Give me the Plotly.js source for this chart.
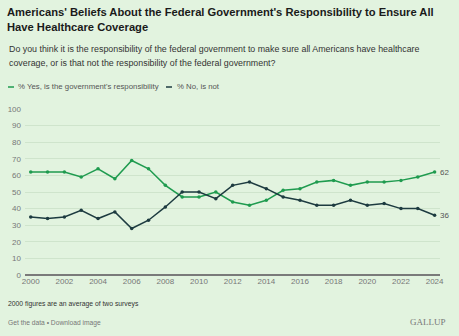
<!DOCTYPE html>
<html>
<head>
<meta charset="utf-8">
<script src="https://cdn.plot.ly/plotly-3.0.1.min.js"></script>
<style>
html,body{margin:0;padding:0;background:#e2f3df;}
#chart{width:459px;height:336px;}
</style>
</head>
<body>
<div id="chart"></div>
<script>
const years = [2000,2001,2002,2003,2004,2005,2006,2007,2008,2009,2010,2011,2012,2013,2014,2015,2016,2017,2018,2019,2020,2021,2022,2023,2024];
const yesValues = [62,62,62,59,64,58,69,64,54,47,47,50,44,42,45,51,52,56,57,54,56,56,57,59,62];
const noValues  = [35,34,35,39,34,38,28,33,41,50,50,46,54,56,52,47,45,42,42,45,42,43,40,40,36];
const seriesNames = ["% Yes, is the government's responsibility", "% No, is not"];
const xTicks = [2000,2002,2004,2006,2008,2010,2012,2014,2016,2018,2020,2022,2024];
const yTicks = [0,10,20,30,40,50,60,70,80,90,100];

const FONT = "'Liberation Sans', Arial, sans-serif";
const GREEN = "#1f9b4f";
const DARK = "#1d3b40";
const BG = "#e2f3df";

// plot area: left 25px, right 440px, top 109px, bottom 275px
const W = 459, H = 336;
const PL = 25, PW = 415, PT = 109, PH = 166;
const px = v => (v - PL) / PW;          // pixel x -> paper x
const py = v => 1 + (PT - v) / PH;      // pixel y -> paper y

const traces = [
  {x: years, y: yesValues, name: seriesNames[0], type: "scatter", mode: "lines+markers",
   line: {color: GREEN, width: 1.5}, marker: {color: GREEN, size: 3.5}},
  {x: years, y: noValues, name: seriesNames[1], type: "scatter", mode: "lines+markers",
   line: {color: DARK, width: 1.5}, marker: {color: DARK, size: 3.5}}
];

const last = years.length - 1;
const legendShapes = [
  {type: "line", xref: "paper", yref: "paper", x0: px(8), x1: px(14), y0: py(87), y1: py(87), line: {color: GREEN, width: 1.5}},
  {type: "line", xref: "paper", yref: "paper", x0: px(166), x1: px(172), y0: py(87), y1: py(87), line: {color: DARK, width: 1.5}}
];

const layout = {
  width: W, height: H,
  paper_bgcolor: BG, plot_bgcolor: BG,
  margin: {l: PL, r: W - PL - PW, t: PT, b: H - PT - PH},
  font: {family: FONT, size: 8, color: "#666"},
  title: {
    text: "<b>Americans' Beliefs About the Federal Government's Responsibility to Ensure All<br>Have Healthcare Coverage</b>",
    xref: "container", x: 7 / W, xanchor: "left",
    yref: "container", y: (H - 16) / H, yanchor: "bottom",
    font: {family: FONT, size: 11.2, color: "#1a1a1a"}
  },
  showlegend: false,
  xaxis: {
    range: [1999.66, 2024.32], tickvals: xTicks, ticktext: xTicks.map(String),
    showgrid: false, zeroline: false, showline: false, ticks: "",
    tickfont: {family: FONT, size: 8, color: "#777"}, fixedrange: true
  },
  yaxis: {
    range: [0, 100], tickvals: yTicks, showgrid: true, gridcolor: "#cfe4cc", gridwidth: 1,
    zeroline: true, zerolinecolor: "#7a7a7a", zerolinewidth: 1.5,
    ticks: "", tickfont: {family: FONT, size: 8, color: "#777"}, ticklabelstandoff: 3, fixedrange: true
  },
  shapes: legendShapes,
  annotations: [
    {text: "Do you think it is the responsibility of the federal government to make sure all Americans have healthcare",
     xref: "paper", yref: "paper", x: px(7), y: py(49), xanchor: "left", yanchor: "middle",
     showarrow: false, font: {family: FONT, size: 8.85, color: "#333"}},
    {text: "coverage, or is that not the responsibility of the federal government?",
     xref: "paper", yref: "paper", x: px(7), y: py(63), xanchor: "left", yanchor: "middle",
     showarrow: false, font: {family: FONT, size: 8.85, color: "#333"}},
    {text: seriesNames[0], xref: "paper", yref: "paper", x: px(16), y: py(87), xanchor: "left", yanchor: "middle",
     showarrow: false, font: {family: FONT, size: 7.8, color: "#555"}},
    {text: seriesNames[1], xref: "paper", yref: "paper", x: px(175), y: py(87), xanchor: "left", yanchor: "middle",
     showarrow: false, font: {family: FONT, size: 7.8, color: "#555"}},
    {text: String(yesValues[last]), xref: "x", yref: "y", x: years[last], y: yesValues[last],
     xanchor: "left", xshift: 3, showarrow: false, font: {family: FONT, size: 8, color: "#555"}},
    {text: String(noValues[last]), xref: "x", yref: "y", x: years[last], y: noValues[last],
     xanchor: "left", xshift: 3, showarrow: false, font: {family: FONT, size: 8, color: "#555"}},
    {text: "2000 figures are an average of two surveys", xref: "paper", yref: "paper",
     x: px(6), y: py(304), xanchor: "left", yanchor: "middle", showarrow: false,
     font: {family: FONT, size: 6.8, color: "#333"}},
    {text: "Get the data • Download image", xref: "paper", yref: "paper",
     x: px(6), y: py(323), xanchor: "left", yanchor: "middle", showarrow: false,
     font: {family: FONT, size: 6.7, color: "#777"}},
    {text: "GALLUP", xref: "paper", yref: "paper",
     x: px(448), y: py(322), xanchor: "right", yanchor: "middle", showarrow: false,
     font: {family: "'Liberation Serif', 'DejaVu Serif', serif", size: 9, color: "#777"}}
  ]
};

Plotly.newPlot("chart", traces, layout, {displayModeBar: false, staticPlot: true});
</script>
</body>
</html>
